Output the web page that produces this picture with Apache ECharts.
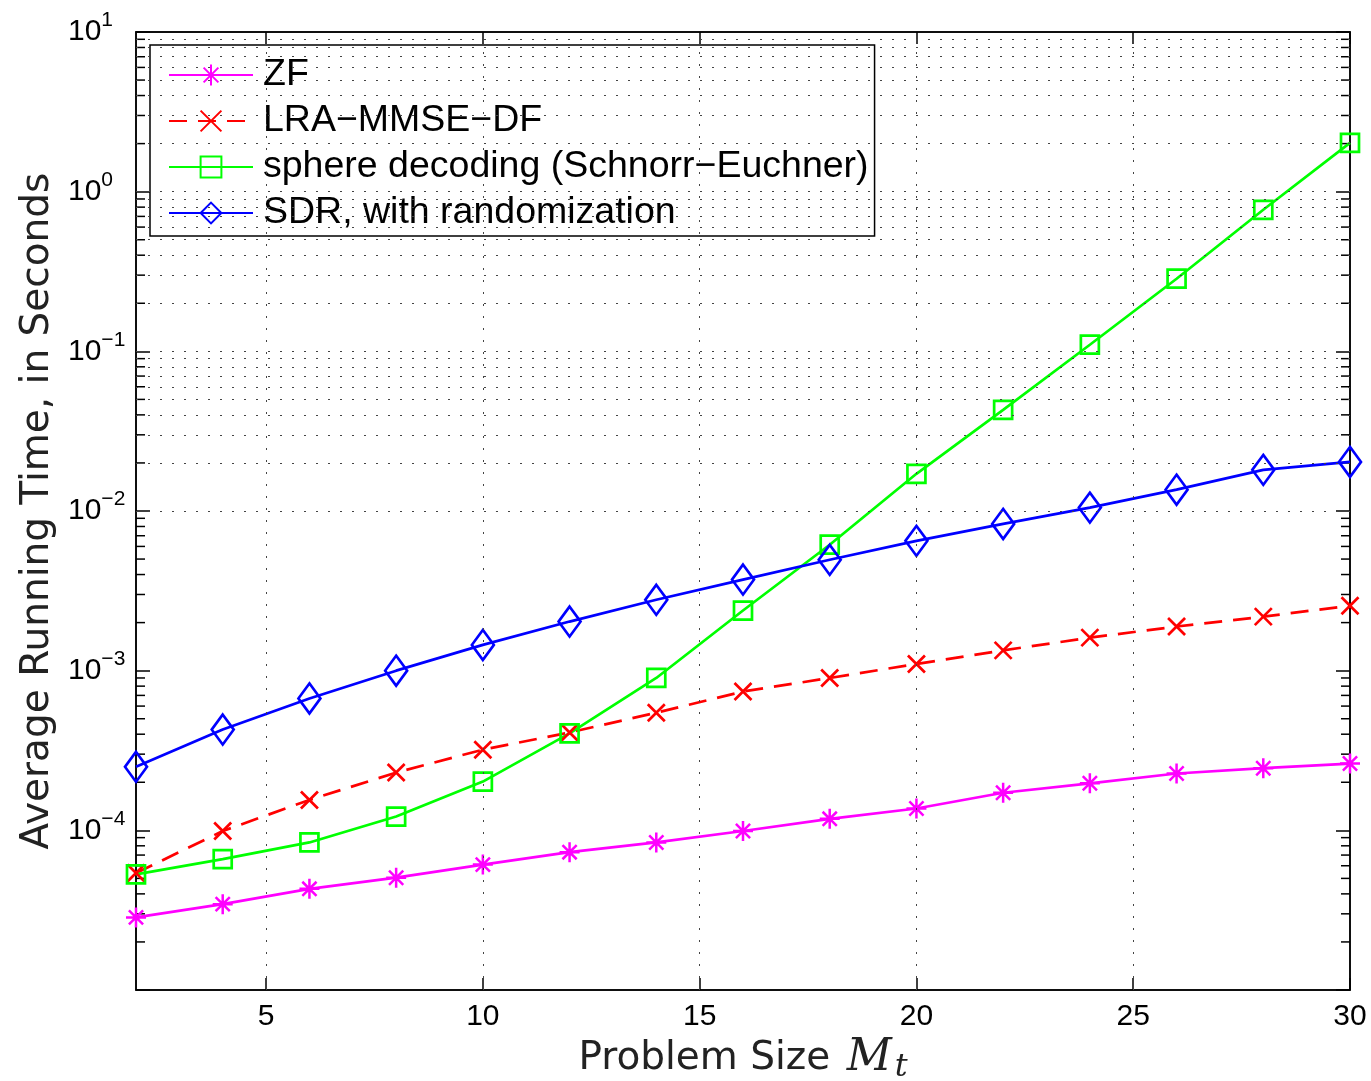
<!DOCTYPE html>
<html>
<head>
<meta charset="utf-8">
<script src="https://cdn.jsdelivr.net/npm/echarts@6/dist/echarts.min.js"></script>
<style>html,body{margin:0;padding:0;background:#fff;}#chart{width:1371px;height:1081px;}</style>
</head>
<body>
<div id="chart"></div>
<script>
// ---- data ----
const problemSize = [2, 4, 6, 8, 10, 12, 14, 16, 18, 20, 22, 24, 26, 28, 30];
const zfTime = [2.85e-5, 3.45e-5, 4.3e-5, 5.05e-5, 6.1e-5, 7.3e-5, 8.4e-5, 9.9e-5, 1.18e-4, 1.37e-4, 1.72e-4, 1.97e-4, 2.27e-4, 2.45e-4, 2.62e-4];
const lraTime = [5.4e-5, 9.9e-5, 1.55e-4, 2.3e-4, 3.2e-4, 4.1e-4, 5.45e-4, 7.4e-4, 9.0e-4, 1.1e-3, 1.34e-3, 1.61e-3, 1.89e-3, 2.18e-3, 2.55e-3];
const sphereTime = [5.3e-5, 6.6e-5, 8.4e-5, 1.22e-4, 2.02e-4, 4.05e-4, 9.0e-4, 2.38e-3, 6.15e-3, 1.71e-2, 4.3e-2, 0.11, 0.285, 0.77, 2.02];
const sdrTime = [2.5e-4, 4.28e-4, 6.7e-4, 1.0e-3, 1.45e-3, 2.03e-3, 2.78e-3, 3.72e-3, 4.95e-3, 6.5e-3, 8.3e-3, 1.05e-2, 1.36e-2, 1.81e-2, 2.03e-2];
const seriesNames = ['ZF', 'LRA\u2212MMSE\u2212DF', 'sphere decoding (Schnorr\u2212Euchner)', 'SDR, with randomization'];
const xTicks = [5, 10, 15, 20, 25, 30];
const yDecades = [1e-5, 1e-4, 1e-3, 1e-2, 1e-1, 1, 10];
const X_MIN = 2, X_MAX = 30, Y_MIN = 1e-5, Y_MAX = 10;

// minor log ticks 2..9 within each decade (axis structure)
const yMinor = [];
for (let i = 0; i < yDecades.length - 1; i++) {
  for (let k = 2; k <= 9; k++) yMinor.push(+(yDecades[i] * k).toPrecision(3));
}
const yGridVals = yMinor.concat(yDecades.slice(1, -1));
const xGridVals = xTicks.slice(0, -1);

const zip = (xs, ys) => xs.map((x, i) => [x, ys[i]]);

const FONT = 'Liberation Sans';
const TITLE_FONT = 'DejaVu Sans';
const chart = echarts.init(document.getElementById('chart'), null, {renderer: 'canvas'});

const yLabelFmt = v => {
  const e = Math.round(Math.log10(v));
  if (e <= -5) return '';
  return '{b|10}{s|' + (e < 0 ? '\u2212' + (-e) : e) + '}';
};

const dotted = {type: [2, 10], color: '#444', width: 1};

const option = {
  animation: false,
  backgroundColor: '#fff',
  grid: {left: 136, right: 21, top: 32, bottom: 91, show: true, borderColor: '#000', borderWidth: 1.5,
         backgroundColor: 'transparent', containLabel: false, outerBoundsMode: 'none'},
  legend: {
    orient: 'vertical', left: 150, top: 45,
    backgroundColor: '#fff', borderColor: '#000', borderWidth: 1.5, borderRadius: 0,
    padding: [10, 6, 3, 18],
    itemWidth: 84, itemHeight: 26, itemGap: 6,
    textStyle: {fontFamily: FONT, fontSize: 37.5, color: '#000', lineHeight: 40, padding: [0, 0, 0, 5]},
    data: seriesNames
  },
  xAxis: [
    {type: 'value', min: X_MIN, max: X_MAX, position: 'bottom',
     name: 'Problem Size {m|M}{t|t}', nameLocation: 'middle', nameGap: 40,
     nameTextStyle: {fontFamily: TITLE_FONT, fontSize: 39, color: '#222',
       rich: {m: {fontFamily: 'DejaVu Serif', fontStyle: 'italic', fontSize: 44, color: '#222', padding: [0, 3, 0, 4]},
              t: {fontFamily: 'DejaVu Serif', fontStyle: 'italic', fontSize: 32, color: '#222', padding: [18, 0, 0, 0]}}},
     axisLine: {show: true, lineStyle: {color: '#000', width: 1.5}},
     axisTick: {show: true, inside: true, length: 12, customValues: xTicks, lineStyle: {color: '#000', width: 1.5}},
     axisLabel: {show: true, customValues: xTicks, fontFamily: FONT, fontSize: 30, color: '#000', margin: 12},
     splitLine: {show: false}},
    {type: 'value', min: X_MIN, max: X_MAX, position: 'top',
     axisLine: {show: true, lineStyle: {color: '#000', width: 1.5}},
     axisTick: {show: true, inside: true, length: 12, customValues: xTicks, lineStyle: {color: '#000', width: 1.5}},
     axisLabel: {show: false}, splitLine: {show: false}}
  ],
  yAxis: [
    {type: 'log', logBase: 10, min: Y_MIN, max: Y_MAX, position: 'left',
     name: 'Average Running Time, in Seconds', nameLocation: 'middle', nameRotate: 90, nameGap: 76,
     nameTextStyle: {fontFamily: TITLE_FONT, fontSize: 39, color: '#222'},
     axisLine: {show: true, lineStyle: {color: '#000', width: 1.5}},
     axisTick: {show: true, inside: true, length: 14, customValues: yDecades, lineStyle: {color: '#000', width: 1.5}},
     axisLabel: {show: true, customValues: yDecades, formatter: yLabelFmt, align: 'left', margin: 68,
       rich: {b: {fontFamily: FONT, fontSize: 30, color: '#000', lineHeight: 44, verticalAlign: 'middle'},
              s: {fontFamily: FONT, fontSize: 21, color: '#000', lineHeight: 21, padding: [0, 0, 23, 0], verticalAlign: 'top'}}},
     splitLine: {show: false}},
    {type: 'log', logBase: 10, min: Y_MIN, max: Y_MAX, position: 'right',
     axisLine: {show: true, lineStyle: {color: '#000', width: 1.5}},
     axisTick: {show: true, inside: true, length: 14, customValues: yDecades, lineStyle: {color: '#000', width: 1.5}},
     axisLabel: {show: false}, splitLine: {show: false}}
  ],
  series: [
    {name: 'grid', type: 'line', data: [], silent: true, z: 1,
     markLine: {silent: true, symbol: 'none', animation: false, label: {show: false},
       lineStyle: dotted,
       data: yGridVals.map(v => ({yAxis: v})).concat(xGridVals.map(v => ({xAxis: v})))}},
    {name: 'minorTicks', type: 'custom', silent: true, z: 1, clip: false,
     data: yMinor.map(v => [X_MIN, v]),
     renderItem: (params, api) => {
       const v = api.value(1);
       const pL = api.coord([X_MIN, v]);
       const pR = api.coord([X_MAX, v]);
       const st = {stroke: '#000', lineWidth: 1.5};
       return {type: 'group', children: [
         {type: 'line', shape: {x1: pL[0], y1: pL[1], x2: pL[0] + 9, y2: pL[1]}, style: st},
         {type: 'line', shape: {x1: pR[0] - 9, y1: pR[1], x2: pR[0], y2: pR[1]}, style: st}
       ]};
     }},
    {name: seriesNames[0], type: 'line', data: zip(problemSize, zfTime), clip: false, z: 3,
     symbol: 'path://M10,0L10,20M0,10L20,10M2.9,2.9L17.1,17.1M2.9,17.1L17.1,2.9', symbolSize: 20,
     lineStyle: {color: '#ff00ff', width: 2.7},
     itemStyle: {color: 'none', borderColor: '#ff00ff', borderWidth: 2.5}},
    {name: seriesNames[1], type: 'line', data: zip(problemSize, lraTime), clip: false, z: 3,
     symbol: 'path://M0,0L20,20M0,20L20,0', symbolSize: 17,
     lineStyle: {color: '#ff0000', width: 2.7, type: [18, 11]},
     itemStyle: {color: 'none', borderColor: '#ff0000', borderWidth: 2.7}},
    {name: seriesNames[2], type: 'line', data: zip(problemSize, sphereTime), clip: false, z: 3,
     symbol: 'rect', symbolSize: 18,
     lineStyle: {color: '#00ff00', width: 2.7},
     itemStyle: {color: 'none', borderColor: '#00ff00', borderWidth: 2.7}},
    {name: seriesNames[3], type: 'line', data: zip(problemSize, sdrTime), clip: false, z: 3,
     symbol: 'diamond', symbolSize: [22, 30],
     lineStyle: {color: '#0000ff', width: 2.7},
     itemStyle: {color: 'none', borderColor: '#0000ff', borderWidth: 2.7}}
  ]
};
chart.setOption(option);
</script>
</body>
</html>
